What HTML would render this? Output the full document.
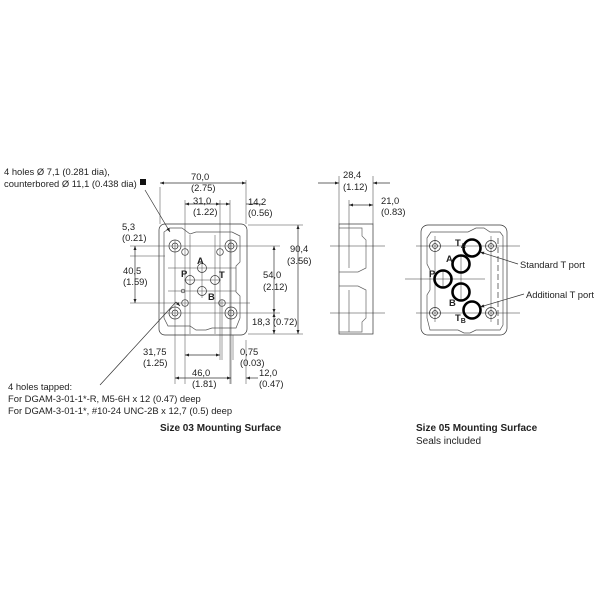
<!DOCTYPE html>
<html><head><meta charset="utf-8"><style>
html,body{margin:0;padding:0;background:#fff;width:600px;height:600px;overflow:hidden}
svg{display:block}
text{font-family:"Liberation Sans",Arial,sans-serif;font-size:9.4px;fill:#222}
.b{font-weight:bold}
</style></head><body>
<svg width="600" height="600" viewBox="0 0 600 600" xmlns="http://www.w3.org/2000/svg">
<defs>
<marker id="ar" viewBox="0 0 8 6" refX="8" refY="3" markerWidth="6" markerHeight="4.5" orient="auto-start-reverse"><path d="M0,0L8,3L0,6z" fill="#222"/></marker>
</defs>
<g stroke="#333" stroke-width="0.7" fill="none">
<rect x="159" y="224" width="88" height="111" rx="6"/>
<path d="M164,232 L170,228 L182,228 L190,234 L196,232 L232,232 L240,236 L240,262 L236,266 L236,292 L240,296 L240,318 L236,328 L212,328 L206,330 L196,330 L190,326 L168,326 L164,318 Z" stroke="#555"/>
<g stroke="#333">
<circle cx="175" cy="246" r="6"/><circle cx="175" cy="246" r="3"/>
<circle cx="231" cy="246" r="6"/><circle cx="231" cy="246" r="3"/>
<circle cx="175" cy="313" r="6"/><circle cx="175" cy="313" r="3"/>
<circle cx="231" cy="313" r="6"/><circle cx="231" cy="313" r="3"/>
<circle cx="185" cy="252" r="3.3"/><circle cx="220" cy="252" r="3.3"/>
<circle cx="185" cy="303" r="3.3"/><circle cx="222" cy="303" r="3.3"/>
<circle cx="183" cy="291" r="1.8"/>
<circle cx="202" cy="268" r="4.5"/><circle cx="190" cy="280" r="4.5"/>
<circle cx="215" cy="280" r="4.5"/><circle cx="202" cy="291" r="4.5"/>
</g>
<g stroke="#444" stroke-width="0.5">
<line x1="160" y1="187" x2="160" y2="224"/><line x1="246" y1="180" x2="246" y2="224"/>
<line x1="185" y1="200" x2="185" y2="384"/><line x1="220" y1="200" x2="220" y2="360"/>
<line x1="230" y1="200" x2="230" y2="384"/><line x1="175" y1="240" x2="175" y2="384"/>
<line x1="231" y1="240" x2="231" y2="384"/><line x1="222" y1="300" x2="222" y2="360"/>
<line x1="246" y1="340" x2="246" y2="384"/><line x1="233" y1="335" x2="233" y2="360"/>
<line x1="130" y1="246" x2="280" y2="246"/><line x1="130" y1="303" x2="250" y2="303"/>
<line x1="160" y1="313" x2="280" y2="313"/><line x1="248" y1="225" x2="303" y2="225"/>
<line x1="248" y1="334" x2="303" y2="334"/>
<line x1="130" y1="256" x2="165" y2="256"/>
<line x1="202" y1="262" x2="202" y2="298"/><line x1="184" y1="280" x2="221" y2="280"/>
<line x1="190" y1="235" x2="190" y2="334"/><line x1="215" y1="235" x2="215" y2="334"/>
<line x1="168" y1="268" x2="236" y2="268"/><line x1="168" y1="291" x2="236" y2="291"/>
</g>
<line x1="160" y1="183" x2="246" y2="183" marker-start="url(#ar)" marker-end="url(#ar)"/>
<line x1="185" y1="204" x2="220" y2="204" marker-start="url(#ar)" marker-end="url(#ar)"/>
<line x1="216" y1="204" x2="230" y2="204" marker-end="url(#ar)"/>
<line x1="262" y1="204" x2="246" y2="204"/>
<line x1="298" y1="225" x2="298" y2="334" marker-start="url(#ar)" marker-end="url(#ar)"/>
<line x1="274" y1="246" x2="274" y2="313" marker-start="url(#ar)" marker-end="url(#ar)"/>
<line x1="274" y1="313" x2="274" y2="334" marker-start="url(#ar)" marker-end="url(#ar)"/>
<line x1="135" y1="246" x2="135" y2="303" marker-start="url(#ar)" marker-end="url(#ar)"/>
<line x1="185" y1="355" x2="220" y2="355" marker-start="url(#ar)" marker-end="url(#ar)"/>
<line x1="175" y1="378" x2="231" y2="378" marker-start="url(#ar)" marker-end="url(#ar)"/>
<line x1="258" y1="378" x2="246" y2="378" marker-end="url(#ar)"/>
<line x1="145" y1="190" x2="170" y2="232" marker-end="url(#ar)"/>
<line x1="100" y1="385" x2="176" y2="302"/>
<line x1="176" y1="302" x2="180" y2="306" marker-end="url(#ar)"/>
<rect x="339" y="224" width="34" height="110"/>
<path d="M339,228 L362,228 L362,236 L366,240 L366,268 L358,272 L339,272 M339,286 L358,286 L366,290 L366,318 L362,322 L362,332 L339,332" stroke="#666"/>
<line x1="349" y1="228" x2="349" y2="268" stroke="#666"/><line x1="349" y1="290" x2="349" y2="332" stroke="#666"/>
<line x1="330" y1="246" x2="385" y2="246" stroke-width="0.5"/><line x1="330" y1="313" x2="385" y2="313" stroke-width="0.5"/>
<line x1="339" y1="176" x2="339" y2="224" stroke-width="0.5"/><line x1="373" y1="176" x2="373" y2="224" stroke-width="0.5"/>
<line x1="349" y1="200" x2="349" y2="228" stroke-width="0.5"/>
<line x1="318" y1="183" x2="339" y2="183" marker-end="url(#ar)"/>
<line x1="390" y1="183" x2="373" y2="183" marker-end="url(#ar)"/>
<line x1="349" y1="205" x2="373" y2="205" marker-start="url(#ar)" marker-end="url(#ar)"/>
<rect x="421" y="225" width="86" height="110" rx="7"/>
<path d="M427,238 L431,232 L468,232 L476,228 L484,228 L490,232 L500,232 L503,236 L503,325 L500,330 L476,330 L470,333 L464,333 L458,330 L430,330 L427,318 L427,295 L430,290 L430,270 L427,264 Z" stroke="#555"/>
<path d="M498,238 L498,325" stroke-dasharray="6,3"/>
<g stroke-width="0.5">
<line x1="416" y1="246" x2="520" y2="246"/><line x1="416" y1="313" x2="520" y2="313"/>
<line x1="405" y1="279" x2="485" y2="279"/>
<line x1="435" y1="236" x2="435" y2="322"/><line x1="491" y1="236" x2="491" y2="322"/>
<line x1="461" y1="256" x2="461" y2="300"/><line x1="443" y1="270" x2="443" y2="288"/>
</g>
<circle cx="435" cy="246" r="5.5"/><circle cx="435" cy="246" r="2.5"/>
<circle cx="491" cy="246" r="5.5"/><circle cx="491" cy="246" r="2.5"/>
<circle cx="435" cy="313" r="5.5"/><circle cx="435" cy="313" r="2.5"/>
<circle cx="491" cy="313" r="5.5"/><circle cx="491" cy="313" r="2.5"/>
<g stroke="#000" stroke-width="2.6">
<circle cx="472" cy="248" r="8.5"/><circle cx="461" cy="264" r="8.5"/>
<circle cx="443" cy="279" r="8.5"/><circle cx="461" cy="292" r="8.5"/>
<circle cx="472" cy="310" r="8.5"/>
</g>
<line x1="518" y1="264" x2="480" y2="252" marker-end="url(#ar)"/>
<line x1="524" y1="294" x2="480" y2="307" marker-end="url(#ar)"/>
</g>
<rect x="140" y="179" width="6" height="6" fill="#111"/>
<g>
<text x="4" y="175">4 holes Ø 7,1 (0.281 dia),</text>
<text x="4" y="187">counterbored Ø 11,1 (0.438 dia)</text>
<text x="191" y="180">70,0</text><text x="191" y="191">(2.75)</text>
<text x="193" y="204">31,0</text><text x="193" y="215">(1.22)</text>
<text x="248" y="205">14,2</text><text x="248" y="216">(0.56)</text>
<text x="122" y="230">5,3</text><text x="122" y="241">(0.21)</text>
<text x="123" y="274">40,5</text><text x="123" y="285">(1.59)</text>
<text x="290" y="252">90,4</text><text x="287" y="264">(3.56)</text>
<text x="263" y="278">54,0</text><text x="263" y="290">(2.12)</text>
<text x="252" y="325">18,3 (0.72)</text>
<text x="143" y="355">31,75</text><text x="143" y="366">(1.25)</text>
<text x="240" y="355">0,75</text><text x="240" y="366">(0.03)</text>
<text x="192" y="376">46,0</text><text x="192" y="387">(1.81)</text>
<text x="259" y="376">12,0</text><text x="259" y="387">(0.47)</text>
<text x="343" y="178">28,4</text><text x="343" y="190">(1.12)</text>
<text x="381" y="204">21,0</text><text x="381" y="215">(0.83)</text>
<text x="8" y="390">4 holes tapped:</text>
<text x="8" y="402">For DGAM-3-01-1*-R, M5-6H x 12 (0.47) deep</text>
<text x="8" y="414">For DGAM-3-01-1*, #10-24 UNC-2B x 12,7 (0.5) deep</text>
<text x="160" y="431" class="b" style="font-size:10px">Size 03 Mounting Surface</text>
<text x="416" y="431" class="b" style="font-size:10px">Size 05 Mounting Surface</text>
<text x="416" y="444" style="font-size:10px">Seals included</text>
<text x="520" y="268">Standard T port</text>
<text x="526" y="298">Additional T port</text>
</g>
<g>
<text x="197" y="264" class="b">A</text><text x="181" y="277" class="b">P</text>
<text x="219" y="278" class="b">T</text><text x="208" y="300" class="b">B</text>
<text x="455" y="246" class="b">T<tspan style="font-size:7px" dy="2">A</tspan></text>
<text x="446" y="262" class="b">A</text><text x="429" y="277" class="b">P</text>
<text x="449" y="306" class="b">B</text>
<text x="455" y="321" class="b">T<tspan style="font-size:7px" dy="2">B</tspan></text>
</g>
</svg>
</body></html>
